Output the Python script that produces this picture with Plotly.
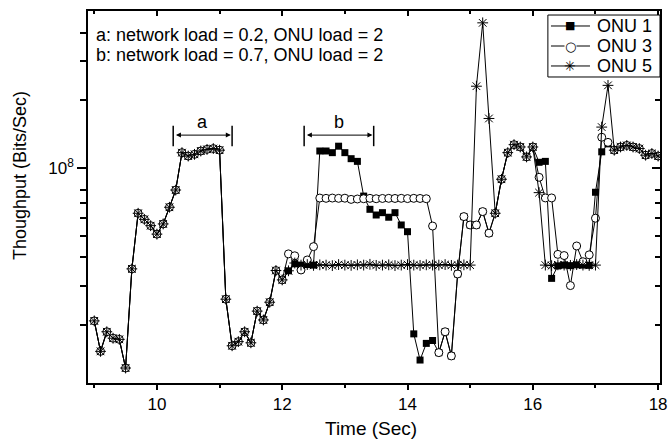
import plotly.graph_objects as go
import math

# ---------------- data ----------------
time_sec = [9.0, 9.1, 9.2, 9.3, 9.4, 9.5, 9.6, 9.7, 9.8, 9.9,
            10.0, 10.1, 10.2, 10.3, 10.4, 10.5, 10.6, 10.7, 10.8, 10.9,
            11.0, 11.1, 11.2, 11.3, 11.4, 11.5, 11.6, 11.7, 11.8, 11.9,
            12.0, 12.1, 12.2, 12.3, 12.4, 12.5, 12.6, 12.7, 12.8, 12.9,
            13.0, 13.1, 13.2, 13.3, 13.4, 13.5, 13.6, 13.7, 13.8, 13.9,
            14.0, 14.1, 14.2, 14.3, 14.4, 14.5, 14.6, 14.7, 14.8, 14.9,
            15.0, 15.1, 15.2, 15.3, 15.4, 15.5, 15.6, 15.7, 15.8, 15.9,
            16.0, 16.1, 16.2, 16.3, 16.4, 16.5, 16.6, 16.7, 16.8, 16.9,
            17.0, 17.1, 17.2, 17.3, 17.4, 17.5, 17.6, 17.7, 17.8, 17.9,
            18.0]

onu1 = [2.09e7, 1.53e7, 1.87e7, 1.75e7, 1.73e7, 1.29e7, 3.56e7, 6.29e7, 5.91e7, 5.54e7,
        5.08e7, 5.64e7, 6.69e7, 7.98e7, 1.17e8, 1.13e8, 1.15e8, 1.19e8, 1.21e8, 1.22e8,
        1.20e8, 2.61e7, 1.62e7, 1.69e7, 1.87e7, 1.67e7, 2.31e7, 2.11e7, 2.53e7, 3.50e7,
        3.18e7, 3.49e7, 3.75e7, 3.70e7, 3.72e7, 3.70e7, 1.19e8, 1.19e8, 1.17e8, 1.25e8,
        1.17e8, 1.10e8, 1.07e8, 7.50e7, 6.55e7, 6.18e7, 6.33e7, 6.04e7, 6.33e7, 5.58e7,
        5.21e7, 1.83e7, 1.40e7, 1.66e7, 1.71e7, 1.51e7, 1.87e7, 1.46e7, 3.38e7, 6.08e7,
        5.58e7, 5.58e7, 6.40e7, 5.13e7, 6.29e7, 8.91e7, 1.17e8, 1.27e8, 1.24e8, 1.12e8,
        1.24e8, 1.06e8, 1.07e8, 3.23e7, 3.67e7, 3.70e7, 3.68e7, 3.71e7, 3.70e7, 3.69e7,
        7.80e7, 1.18e8, 1.28e8, 1.20e8, 1.24e8, 1.26e8, 1.24e8, 1.22e8, 1.14e8, 1.16e8,
        1.13e8]

onu3 = [2.09e7, 1.53e7, 1.87e7, 1.75e7, 1.73e7, 1.29e7, 3.56e7, 6.29e7, 5.91e7, 5.54e7,
        5.08e7, 5.64e7, 6.69e7, 7.98e7, 1.17e8, 1.13e8, 1.15e8, 1.19e8, 1.21e8, 1.22e8,
        1.20e8, 2.61e7, 1.62e7, 1.69e7, 1.87e7, 1.67e7, 2.31e7, 2.11e7, 2.53e7, 3.50e7,
        3.18e7, 4.15e7, 4.07e7, 3.52e7, 3.90e7, 4.47e7, 7.35e7, 7.33e7, 7.35e7, 7.33e7,
        7.34e7, 7.25e7, 7.28e7, 7.30e7, 7.33e7, 7.30e7, 7.32e7, 7.33e7, 7.32e7, 7.33e7,
        7.31e7, 7.33e7, 7.32e7, 7.30e7, 5.52e7, 1.51e7, 1.87e7, 1.46e7, 3.38e7, 6.08e7,
        5.58e7, 5.58e7, 6.40e7, 5.13e7, 6.29e7, 8.91e7, 1.17e8, 1.27e8, 1.24e8, 1.12e8,
        1.24e8, 9.09e7, 7.36e7, 7.36e7, 4.13e7, 4.08e7, 3.00e7, 4.50e7, 3.83e7, 4.11e7,
        5.98e7, 1.37e8, 1.30e8, 1.20e8, 1.24e8, 1.26e8, 1.24e8, 1.22e8, 1.14e8, 1.16e8,
        1.13e8]

onu5 = [2.09e7, 1.53e7, 1.87e7, 1.75e7, 1.73e7, 1.29e7, 3.56e7, 6.29e7, 5.91e7, 5.54e7,
        5.08e7, 5.64e7, 6.69e7, 7.98e7, 1.17e8, 1.13e8, 1.15e8, 1.19e8, 1.21e8, 1.22e8,
        1.20e8, 2.61e7, 1.62e7, 1.69e7, 1.87e7, 1.67e7, 2.31e7, 2.11e7, 2.53e7, 3.50e7,
        3.18e7, 3.49e7, 3.78e7, 3.70e7, 3.72e7, 3.69e7, 3.71e7, 3.70e7, 3.68e7, 3.72e7,
        3.70e7, 3.69e7, 3.71e7, 3.70e7, 3.73e7, 3.69e7, 3.70e7, 3.71e7, 3.68e7, 3.70e7,
        3.72e7, 3.70e7, 3.69e7, 3.71e7, 3.70e7, 3.70e7, 3.72e7, 3.69e7, 3.70e7, 3.71e7,
        3.70e7, 2.31e8, 4.42e8, 1.66e8, 6.29e7, 8.91e7, 1.17e8, 1.27e8, 1.24e8, 1.12e8,
        1.24e8, 7.77e7, 3.70e7, 3.68e7, 3.71e7, 3.70e7, 3.69e7, 3.72e7, 3.70e7, 3.69e7,
        3.70e7, 1.52e8, 2.33e8, 1.20e8, 1.24e8, 1.26e8, 1.24e8, 1.22e8, 1.14e8, 1.16e8,
        1.13e8]

series_names = ["ONU 1", "ONU 3", "ONU 5"]
legend_glyphs = ["■", "○", "✳"]

x_major_ticks = [10, 12, 14, 16, 18]
x_minor_ticks = [9, 11, 13, 15, 17]
y_major_ticks = [1e8]
y_major_text = ["10<sup>8</sup>"]
y_minor_ticks = [2e7, 3e7, 4e7, 5e7, 6e7, 7e7, 8e7, 2e8, 3e8, 4e8, 5e8]

x_title = "Time (Sec)"
y_title = "Thoughput (Bits/Sec)"

interval_labels = ["a", "b"]
interval_start = [10.26, 12.35]
interval_end = [11.20, 13.46]
note_lines = ["a: network load = 0.2, ONU load = 2",
              "b: network load = 0.7, ONU load = 2"]

# ---------------- figure ----------------
FONT = "Liberation Sans, Arial, sans-serif"
x_range = [8.9, 18.03]
y_range = [7.044, 8.698]

fig = go.Figure()
fig.add_trace(go.Scatter(
    x=time_sec, y=onu1, name=series_names[0], mode="lines+markers", showlegend=False,
    line=dict(color="black", width=1),
    marker=dict(symbol="square", size=7, color="black", line=dict(color="black", width=0))))
fig.add_trace(go.Scatter(
    x=time_sec, y=onu3, name=series_names[1], mode="lines+markers", showlegend=False,
    line=dict(color="black", width=1),
    marker=dict(symbol="circle", size=8, color="white", line=dict(color="black", width=1))))
fig.add_trace(go.Scatter(
    x=time_sec, y=onu5, name=series_names[2], mode="lines+markers", showlegend=False,
    line=dict(color="black", width=1),
    marker=dict(symbol="asterisk-open", size=9, color="black", line=dict(color="black", width=1))))
# helper trace for the mirrored (inward-tick) top/right axes
fig.add_trace(go.Scatter(x=[x_range[0]], y=[1e8], xaxis="x2", yaxis="y2", mode="markers",
                         marker=dict(opacity=0), showlegend=False, hoverinfo="skip"))

fig.update_layout(
    width=668, height=444,
    margin=dict(l=88, r=8, t=11, b=61),
    paper_bgcolor="white", plot_bgcolor="white",
    font=dict(family=FONT, size=17, color="black"),
    showlegend=False,
    xaxis=dict(range=x_range, showline=True, linecolor="black", linewidth=1.5, mirror=True,
               ticks="outside", ticklen=5, tickwidth=1.5, tickcolor="black",
               tickvals=x_major_ticks, showgrid=False, zeroline=False, automargin=False,
               ticklabeloverflow="allow",
               tickfont=dict(family=FONT, size=17),
               minor=dict(tickvals=x_minor_ticks, ticks="outside", ticklen=3,
                          tickwidth=1.5, tickcolor="black", showgrid=False)),
    yaxis=dict(type="log", range=y_range, showline=True, linecolor="black", linewidth=1.5,
               mirror=True, ticks="outside", ticklen=9, tickwidth=1.5, tickcolor="black",
               tickvals=y_major_ticks, ticktext=y_major_text, showgrid=False, zeroline=False,
               automargin=False, tickfont=dict(family=FONT, size=17),
               minor=dict(tickvals=y_minor_ticks, ticks="outside", ticklen=6,
                          tickwidth=1.5, tickcolor="black", showgrid=False)),
    xaxis2=dict(overlaying="x", side="top", anchor="y", range=x_range, showline=False,
                ticks="inside", ticklen=5, tickwidth=1.5, tickcolor="black", automargin=False,
                tickvals=x_major_ticks, showticklabels=False, showgrid=False, zeroline=False,
                minor=dict(tickvals=x_minor_ticks, ticks="inside", ticklen=3,
                           tickwidth=1.5, tickcolor="black", showgrid=False)),
    yaxis2=dict(overlaying="y", side="right", anchor="x", type="log", range=y_range,
                showline=False, ticks="inside", ticklen=8, tickwidth=1.5, tickcolor="black",
                automargin=False,
                tickvals=y_major_ticks, showticklabels=False, showgrid=False, zeroline=False,
                minor=dict(tickvals=y_minor_ticks, ticks="inside", ticklen=5,
                           tickwidth=1.5, tickcolor="black", showgrid=False)),
)

# axis titles
fig.add_annotation(x=0.495, y=-0.121, xref="paper", yref="paper", text=x_title,
                   showarrow=False, xanchor="center", yanchor="middle",
                   font=dict(family=FONT, size=19))
fig.add_annotation(x=-0.119, y=0.559, xref="paper", yref="paper", text=y_title,
                   showarrow=False, textangle=-90, xanchor="center", yanchor="middle",
                   font=dict(family=FONT, size=18))

# interval markers (a, b)
bar_lo, bar_hi, arrow_y, label_y = 1.25e8, 1.54e8, 1.40e8, 1.60e8
for lab, xs, xe in zip(interval_labels, interval_start, interval_end):
    for xv in (xs, xe):
        fig.add_shape(type="line", xref="x", yref="y", x0=xv, x1=xv, y0=bar_lo, y1=bar_hi,
                      line=dict(color="black", width=1.5))
    fig.add_annotation(x=xe - 0.02, y=math.log10(arrow_y), ax=xs + 0.02, ay=math.log10(arrow_y),
                       xref="x", yref="y", axref="x", ayref="y", text="", showarrow=True,
                       arrowhead=2, arrowside="end+start", arrowsize=1, arrowwidth=1,
                       arrowcolor="black")
    fig.add_annotation(x=(xs + xe) / 2, y=math.log10(label_y), xref="x", yref="y",
                       text=lab, showarrow=False, yanchor="middle",
                       font=dict(family=FONT, size=18))

# notes at top-left
for i, line in enumerate(note_lines):
    fig.add_annotation(x=0.011, y=0.935 - i * 0.053, xref="paper", yref="paper",
                       text=line, showarrow=False, xanchor="left", yanchor="middle",
                       font=dict(family=FONT, size=18))

# compact boxed legend (Origin style) in the top-right corner
lg_x0, lg_x1, lg_y0, lg_y1 = 0.804, 1.0, 0.8226, 0.9892
row_y = [0.9597, 0.9059, 0.8522]
fig.add_shape(type="rect", xref="paper", yref="paper", x0=lg_x0, x1=lg_x1, y0=lg_y0, y1=lg_y1,
              fillcolor="white", line=dict(color="black", width=1), layer="above")
glyph_sizes = [11, 13, 14]
for name, glyph, gs, ry in zip(series_names, legend_glyphs, glyph_sizes, row_y):
    fig.add_shape(type="line", xref="paper", yref="paper", x0=0.8094, x1=0.8776, y0=ry, y1=ry,
                  line=dict(color="black", width=1), layer="above")
    fig.add_annotation(x=0.8435, y=ry, xref="paper", yref="paper", text=glyph,
                       showarrow=False, xanchor="center", yanchor="middle",
                       bgcolor="white" if glyph == "○" else None, borderpad=0,
                       font=dict(family="DejaVu Sans", size=gs, color="black"))
    fig.add_annotation(x=0.8864, y=ry, xref="paper", yref="paper", text=name,
                       showarrow=False, xanchor="left", yanchor="middle",
                       font=dict(family=FONT, size=18))

# remove the default 8px page margin so the figure fills the 668x444 window exactly
fig.write_html("out.html",
               config={"displayModeBar": False},
               post_script="document.body.style.margin='0';document.body.style.overflow='hidden';")
